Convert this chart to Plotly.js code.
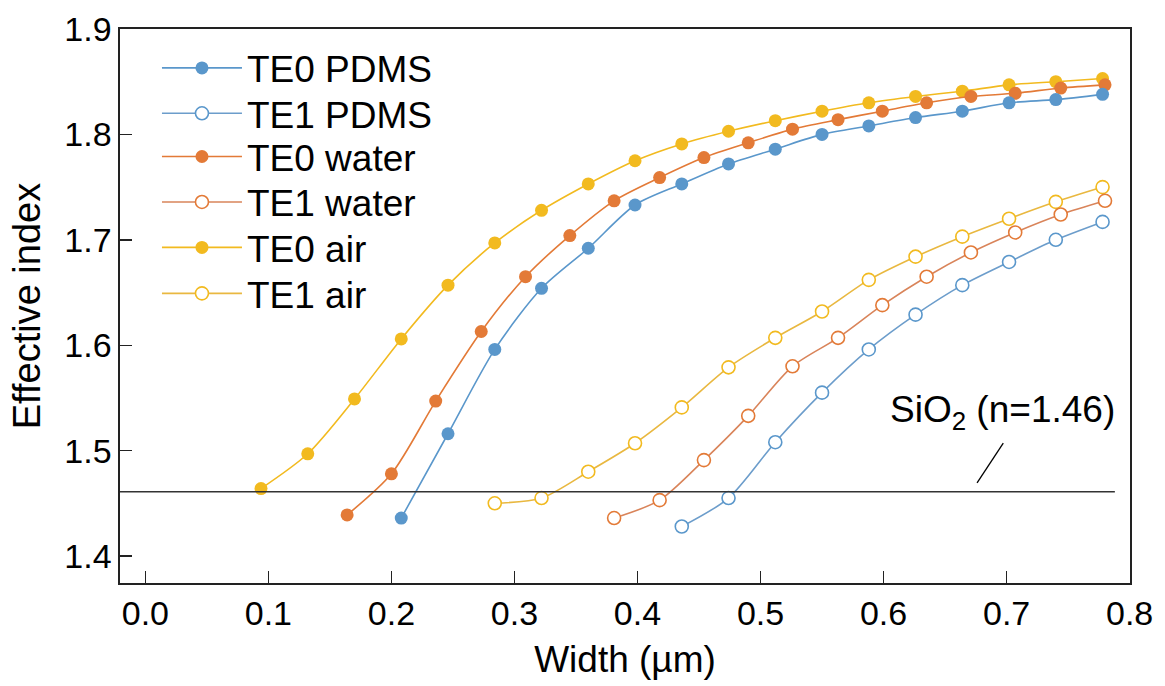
<!DOCTYPE html>
<html>
<head>
<meta charset="utf-8">
<script src="https://cdn.plot.ly/plotly-3.0.1.min.js"></script>
<style>html,body{margin:0;padding:0;background:#fff;}#chart{width:1165px;height:686px;}</style>
</head>
<body>
<div id="chart"></div>
<script>
// Width (µm) grids
const xPDMS0 = [0.208, 0.246, 0.284, 0.322, 0.360, 0.398, 0.436, 0.474, 0.512, 0.550, 0.588, 0.626, 0.664, 0.702, 0.740, 0.778];
const yPDMS0 = [1.436, 1.516, 1.596, 1.654, 1.692, 1.733, 1.753, 1.772, 1.786, 1.800, 1.808, 1.816, 1.822, 1.830, 1.833, 1.838];
const xPDMS1 = [0.436, 0.474, 0.512, 0.550, 0.588, 0.626, 0.664, 0.702, 0.740, 0.778];
const yPDMS1 = [1.428, 1.455, 1.508, 1.555, 1.596, 1.629, 1.657, 1.679, 1.700, 1.717];
const xWater0 = [0.164, 0.200, 0.236, 0.273, 0.309, 0.345, 0.381, 0.418, 0.454, 0.490, 0.526, 0.563, 0.599, 0.635, 0.671, 0.707, 0.744, 0.780];
const yWater0 = [1.439, 1.478, 1.547, 1.613, 1.665, 1.704, 1.737, 1.759, 1.778, 1.792, 1.805, 1.814, 1.822, 1.830, 1.836, 1.839, 1.844, 1.847];
const xWater1 = [0.381, 0.418, 0.454, 0.490, 0.526, 0.563, 0.599, 0.635, 0.671, 0.707, 0.744, 0.780];
const yWater1 = [1.436, 1.453, 1.491, 1.533, 1.580, 1.607, 1.638, 1.665, 1.688, 1.707, 1.724, 1.737];
const xAir0 = [0.094, 0.132, 0.170, 0.208, 0.246, 0.284, 0.322, 0.360, 0.398, 0.436, 0.474, 0.512, 0.550, 0.588, 0.626, 0.664, 0.702, 0.740, 0.778];
const yAir0 = [1.464, 1.497, 1.549, 1.606, 1.657, 1.697, 1.728, 1.753, 1.775, 1.791, 1.803, 1.813, 1.822, 1.830, 1.836, 1.841, 1.847, 1.850, 1.853];
const xAir1 = [0.284, 0.322, 0.360, 0.398, 0.436, 0.474, 0.512, 0.550, 0.588, 0.626, 0.664, 0.702, 0.740, 0.778];
const yAir1 = [1.450, 1.455, 1.480, 1.507, 1.541, 1.579, 1.607, 1.632, 1.662, 1.684, 1.703, 1.720, 1.736, 1.750];

const seriesNames = ['TE0 PDMS', 'TE1 PDMS', 'TE0 water', 'TE1 water', 'TE0 air', 'TE1 air'];
const SIO2_N = 1.461;
const SIO2_LABEL = 'SiO<sub>2</sub> (n=1.46)';
const xTicks = [0.0, 0.1, 0.2, 0.3, 0.4, 0.5, 0.6, 0.7, 0.8];
const xTickText = ['0.0', '0.1', '0.2', '0.3', '0.4', '0.5', '0.6', '0.7', '0.8'];
const yTicks = [1.4, 1.5, 1.6, 1.7, 1.8, 1.9];
const yTickText = ['1.4', '1.5', '1.6', '1.7', '1.8', '1.9'];

const BLUE = '#5A97CB', ORANGE = '#E37A37', GOLD = '#F2BA1F';
const BLUE_L = '#6C9DCB', ORANGE_L = '#D9845A', GOLD_L = '#E9B840';
const FONT = 'Liberation Sans, Arial, Helvetica, sans-serif';
const xRange = [-0.0206, 0.8003];
const yRange = [1.3744, 1.9];

// legend row centres (paper fraction), one legend per row
const legendRowY = [0.929, 0.847, 0.769, 0.687, 0.605, 0.522];
const legendIds = ['legend', 'legend2', 'legend3', 'legend4', 'legend5', 'legend6'];

function tr(x, y, idx, color, lineColor, filled) {
  return {
    type: 'scatter', mode: 'lines+markers', x: x, y: y, name: seriesNames[idx],
    legend: legendIds[idx],
    line: {color: lineColor, width: 1.6, shape: 'spline', smoothing: 0.8},
    marker: {size: 13, symbol: 'circle', color: filled ? color : '#ffffff',
             line: {color: color, width: filled ? 0 : 1.6}},
    cliponaxis: false
  };
}

const data = [
  tr(xAir1, yAir1, 5, GOLD, GOLD_L, false),
  tr(xAir0, yAir0, 4, GOLD, GOLD, true),
  tr(xWater1, yWater1, 3, ORANGE, ORANGE_L, false),
  tr(xWater0, yWater0, 2, ORANGE, ORANGE, true),
  tr(xPDMS1, yPDMS1, 1, BLUE, BLUE_L, false),
  tr(xPDMS0, yPDMS0, 0, BLUE, BLUE, true)
];

const axisCommon = {
  showgrid: false, zeroline: false, showline: true, linecolor: '#222', linewidth: 1.6,
  mirror: true, ticks: 'inside', ticklen: 12, tickwidth: 1.4, tickcolor: '#222',
  tickfont: {family: FONT, size: 34, color: '#000'}
};

const layout = {
  width: 1165, height: 686,
  paper_bgcolor: '#fff', plot_bgcolor: '#fff',
  margin: {l: 120, r: 35, t: 29, b: 103},
  font: {family: FONT, color: '#000'},
  xaxis: Object.assign({}, axisCommon, {
    range: xRange, tickvals: xTicks, ticktext: xTickText,
    title: {text: 'Width (µm)', font: {family: FONT, size: 37, color: '#000'}, standoff: 14}
  }),
  yaxis: Object.assign({}, axisCommon, {
    range: yRange, tickvals: yTicks, ticktext: yTickText,
    title: {text: 'Effective index', font: {family: FONT, size: 38, color: '#000'}, standoff: 12}
  }),
  showlegend: true,
  shapes: [
    {type: 'line', xref: 'x', yref: 'y', x0: xRange[0], x1: 0.788, y0: SIO2_N, y1: SIO2_N,
     line: {color: '#333', width: 1.6}},
    {type: 'line', xref: 'x', yref: 'y', x0: 0.676, y0: 1.4693, x1: 0.6973, y1: 1.5072,
     line: {color: '#000', width: 1.3}}
  ],
  annotations: [
    {xref: 'x', yref: 'y', x: 0.6966, y: 1.537, text: SIO2_LABEL, showarrow: false,
     xanchor: 'center', yanchor: 'middle', font: {family: FONT, size: 37, color: '#000'}}
  ]
};

legendIds.forEach(function (id, i) {
  layout[id] = {
    x: 0.0366, y: legendRowY[i], xanchor: 'left', yanchor: 'middle',
    bgcolor: 'rgba(0,0,0,0)', borderwidth: 0,
    font: {family: FONT, size: 37, color: '#000'},
    itemwidth: 80
  };
});

Plotly.newPlot('chart', data, layout, {staticPlot: true, displayModeBar: false});
</script>
</body>
</html>
